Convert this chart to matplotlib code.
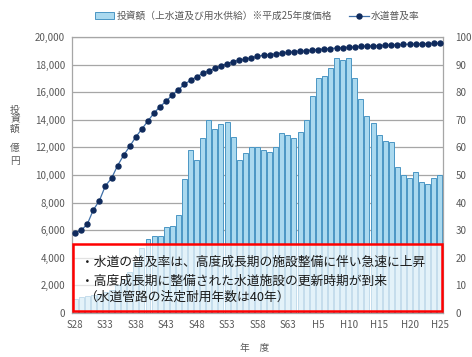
import matplotlib.pyplot as plt
from matplotlib.patches import Rectangle, Patch
from matplotlib.lines import Line2D

plt.rcParams['font.family'] = ['Noto Sans CJK JP', 'DejaVu Sans']

# 年度 S28 (1953) ～ H25 (2013)
years = list(range(1953, 2014))
tick_labels = ["S28", "S33", "S38", "S43", "S48", "S53", "S58", "S63",
               "H5", "H10", "H15", "H20", "H25"]

# 投資額（億円, 平成25年度価格）
investment = [1000, 1150, 1250, 1300, 1400, 1500, 1700, 2000, 2400, 3000,
              3700, 4700, 5340, 5560, 5600, 6260, 6330, 7100, 9710, 11780,
              11110, 12680, 14020, 13330, 13720, 13820, 12740, 11060, 11590, 12000,
              12050, 11810, 11640, 12050, 13040, 12920, 12680, 13110, 14000, 15750,
              17010, 17200, 17730, 18450, 18320, 18450, 17010, 15510, 14300, 13750,
              12920, 12440, 12370, 10560, 10020, 9760, 10200, 9510, 9350, 9760,
              10000]

# 水道普及率（%）
rate = [29.0, 30.0, 32.1, 37.3, 40.7, 46.1, 48.8, 53.4, 57.2, 60.4,
        63.8, 66.7, 69.6, 72.5, 74.8, 76.8, 79.0, 80.9, 82.9, 84.3,
        85.6, 86.8, 87.8, 88.6, 89.6, 90.3, 91.1, 91.6, 92.0, 92.5,
        93.0, 93.4, 93.6, 93.9, 94.2, 94.4, 94.7, 94.9, 95.0, 95.3,
        95.4, 95.7, 95.8, 96.0, 96.1, 96.3, 96.4, 96.6, 96.7, 96.8,
        96.9, 97.0, 97.1, 97.2, 97.3, 97.4, 97.5, 97.5, 97.6, 97.7,
        97.8]

gray = "#595959"
idx = list(range(len(years)))

fig = plt.figure(figsize=(4.72, 3.57), dpi=100)
ax = fig.add_axes([0.1525, 0.1232, 0.786, 0.7732])
ax.bar(idx, investment, width=0.82, color="#aad9ef", edgecolor="#4a96c4",
       linewidth=0.7, zorder=2)
ax.set_xlim(-0.5, len(years) - 0.5)
ax.set_ylim(0, 20000)
ax.set_yticks(range(0, 20001, 2000))
ax.set_yticklabels([f"{v:,}" for v in range(0, 20001, 2000)])
ax.set_xticks(idx[::5])
ax.set_xticklabels(tick_labels)
ax.grid(axis="y", color="#a6a6a6", linewidth=0.9, zorder=0)
ax.set_axisbelow(True)
for s in ax.spines.values():
    s.set_color("#a6a6a6")
    s.set_linewidth(0.9)
ax.tick_params(axis="both", length=0, colors=gray, labelsize=7, pad=5)

ax2 = ax.twinx()
ax2.plot(idx, rate, color="#3f6fa8", linewidth=0.9, marker="o",
         markersize=3.6, markerfacecolor="#0f2a5c", markeredgecolor="#0f2a5c",
         zorder=3)
ax2.set_ylim(0, 100)
ax2.set_yticks(range(0, 101, 10))
ax2.tick_params(axis="y", length=0, colors=gray, labelsize=7, pad=9)
for s in ax2.spines.values():
    s.set_visible(False)

# 説明ボックス
box = Rectangle((0.155, 0.128), 0.782, 0.188, transform=fig.transFigure,
                facecolor="white", alpha=0.68, edgecolor="none", zorder=5)
fig.add_artist(box)
frame = Rectangle((0.155, 0.128), 0.782, 0.188, transform=fig.transFigure,
                  facecolor="none", edgecolor="#ff0000", linewidth=1.8, zorder=6)
fig.add_artist(frame)
fig.text(0.172, 0.265, "・水道の普及率は、高度成長期の施設整備に伴い急速に上昇",
         fontsize=9.2, color="#1a1a1a", va="center", zorder=7)
fig.text(0.172, 0.212, "・高度成長期に整備された水道施設の更新時期が到来",
         fontsize=9.2, color="#1a1a1a", va="center", zorder=7)
fig.text(0.178, 0.166, "（水道管路の法定耐用年数は40年）",
         fontsize=9.2, color="#1a1a1a", va="center", zorder=7)

# 軸ラベル
for ch, y in zip("投資額", [110, 119.5, 128.5]):
    fig.text(0.032, 1 - y / 357, ch, fontsize=7, color=gray, ha="center", va="center")
for ch, y in zip("億円", [148, 161.5]):
    fig.text(0.032, 1 - y / 357, ch, fontsize=7, color=gray, ha="center", va="center")
fig.text(0.54, 1 - 348 / 357, "年　度", fontsize=7, color=gray, ha="center", va="center")

handles = [Patch(facecolor="#aad9ef", edgecolor="#4a96c4", linewidth=0.7),
           Line2D([0], [0], color="#3f6fa8", linewidth=0.9, marker="o",
                  markersize=3.6, markerfacecolor="#0f2a5c", markeredgecolor="#0f2a5c")]
fig.legend(handles, ["投資額（上水道及び用水供給）※平成25年度価格", "水道普及率"],
           loc="center", bbox_to_anchor=(0.545, 0.955), ncol=2, frameon=False,
           fontsize=7, labelcolor=gray, handlelength=2.0, handletextpad=0.2,
           columnspacing=1.8)

fig.savefig("out.png", dpi=100)
